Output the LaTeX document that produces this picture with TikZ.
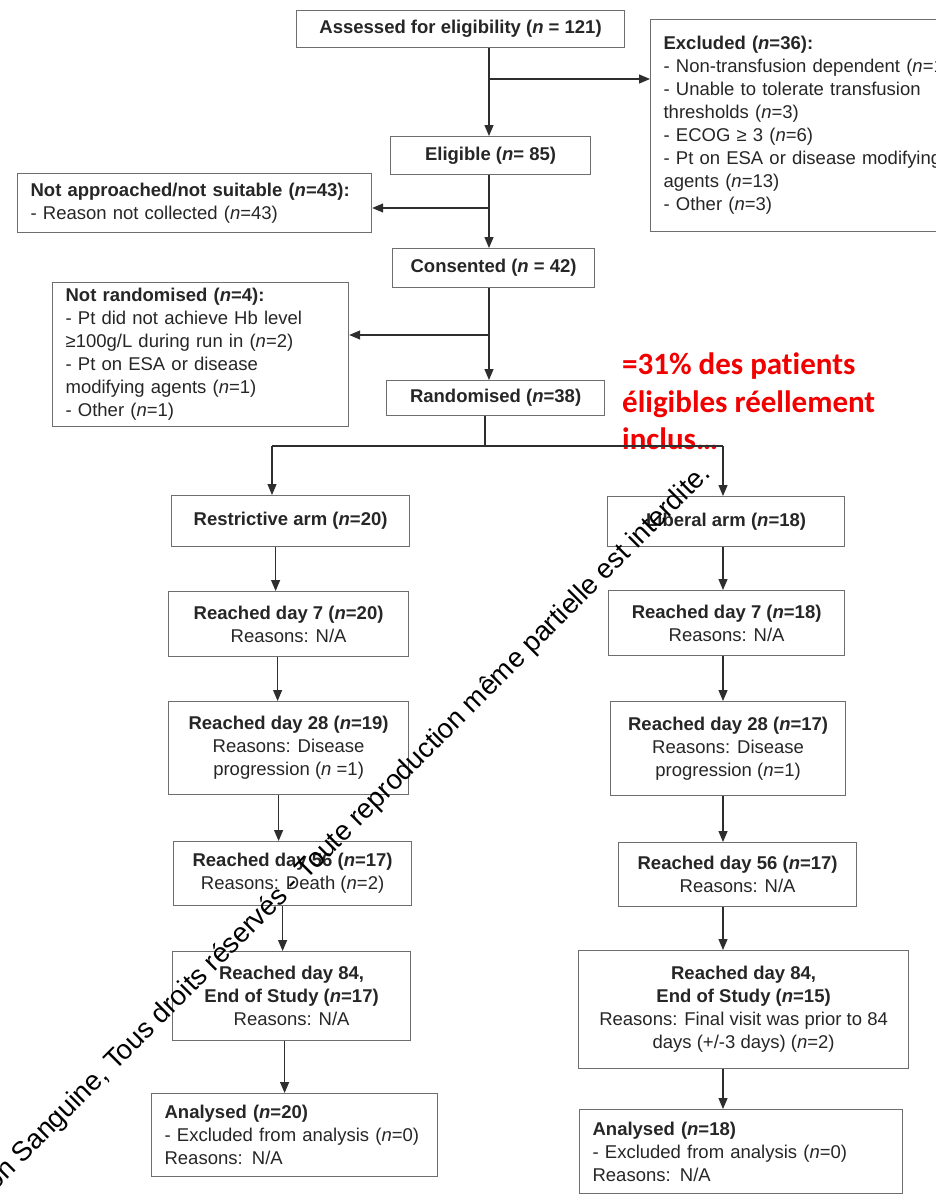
\documentclass[tikz,border=0pt]{standalone}
\usepackage{fontspec}
\setmainfont{Liberation Sans}
\newfontfamily\notefont[Ligatures=NoCommon]{Carlito}
\usetikzlibrary{arrows.meta}
\definecolor{boxgray}{HTML}{6E6E6E}
\definecolor{txtgray}{HTML}{262626}
\definecolor{linegray}{HTML}{2E2E2E}
\definecolor{notered}{HTML}{F20000}
\newcommand{\nn}{\textit{n}}

\begin{document}
\begin{tikzpicture}[x=1pt,y=-1pt,
    box/.style={draw=boxgray, line width=1.2pt, fill=white, text=txtgray, inner sep=0pt,
      font=\fontsize{18.5}{23}\selectfont, align=center, anchor=north west},
    leftbox/.style={box, align=left, inner xsep=13pt},
    arr/.style={draw=linegray, line width=1.2pt, -{Triangle[length=11pt,width=9pt]}},
    link/.style={draw=linegray, line width=1.2pt}]
  \fill[white] (0,0) rectangle (936,1195);
  \useasboundingbox (0,0) rectangle (936,1195);

  % screening
  \node[box, minimum width=328pt, minimum height=37pt] (assess) at (296,10) {\textbf{Assessed for eligibility (\nn\ = 121)}};
  \node[leftbox, text width=330pt, minimum height=212pt] (excl) at (650,19) {\textbf{Excluded (\nn=36):}\\- Non-transfusion dependent (\nn=11)\\- Unable to tolerate transfusion\\thresholds (\nn=3)\\- ECOG ≥ 3 (\nn=6)\\- Pt on ESA or disease modifying\\agents (\nn=13)\\- Other (\nn=3)};
  \node[box, minimum width=200pt, minimum height=38pt] (elig) at (390,136) {\textbf{Eligible (\nn= 85)}};
  \node[leftbox, text width=328pt, minimum height=59pt] (notapp) at (17,173) {\textbf{Not approached/not suitable (\nn=43):}\\- Reason not collected (\nn=43)};
  \node[box, minimum width=202pt, minimum height=39pt] (cons) at (392,248) {\textbf{Consented (\nn\ = 42)}};
  \node[leftbox, text width=270pt, minimum height=144pt] (notrand) at (52,282) {\textbf{Not randomised (\nn=4):}\\- Pt did not achieve Hb level\\≥100g/L during run in (\nn=2)\\- Pt on ESA or disease\\modifying agents (\nn=1)\\- Other (\nn=1)};
  \node[box, minimum width=218pt, minimum height=35pt] (rand) at (386,380) {\textbf{Randomised (\nn=38)}};

  % arms
  \node[box, minimum width=238pt, minimum height=51pt] (restr) at (171,495) {\textbf{Restrictive arm (\nn=20)}};
  \node[box, minimum width=237pt, minimum height=50pt] (liber) at (607,496) {\textbf{Liberal arm (\nn=18)}};
  \node[box, minimum width=240pt, minimum height=65pt] (d7L) at (168,591) {\textbf{Reached day 7 (\nn=20)}\\Reasons: N/A};
  \node[box, minimum width=236pt, minimum height=65pt] (d7R) at (608,590) {\textbf{Reached day 7 (\nn=18)}\\Reasons: N/A};
  \node[box, minimum width=240pt, minimum height=93pt] (d28L) at (168,701) {\textbf{Reached day 28 (\nn=19)}\\Reasons: Disease\\progression (\nn\ =1)};
  \node[box, minimum width=235pt, minimum height=94pt] (d28R) at (610,701) {\textbf{Reached day 28 (\nn=17)}\\Reasons: Disease\\progression (\nn=1)};
  \node[box, minimum width=238pt, minimum height=64pt] (d56L) at (173,841) {\textbf{Reached day 56 (\nn=17)}\\Reasons: Death (\nn=2)};
  \node[box, minimum width=238pt, minimum height=64pt] (d56R) at (618,842) {\textbf{Reached day 56 (\nn=17)}\\Reasons: N/A};
  \node[box, minimum width=238pt, minimum height=89pt] (d84L) at (172,951) {\textbf{Reached day 84,}\\\textbf{End of Study (\nn=17)}\\Reasons: N/A};
  \node[box, minimum width=330pt, minimum height=118pt] (d84R) at (578,950) {\textbf{Reached day 84,}\\\textbf{End of Study (\nn=15)}\\Reasons: Final visit was prior to 84\\days (+/-3 days) (\nn=2)};
  \node[leftbox, text width=260pt, minimum height=83pt] (anaL) at (151,1093) {\textbf{Analysed (\nn=20)}\\- Excluded from analysis (\nn=0)\\Reasons: N/A};
  \node[leftbox, text width=297pt, minimum height=84pt] (anaR) at (579,1109) {\textbf{Analysed (\nn=18)}\\- Excluded from analysis (\nn=0)\\Reasons: N/A};

  % red remark
  \node[anchor=north west, inner sep=0pt, align=left, text=notered,
    font=\notefont\bfseries\fontsize{31}{37.5}\selectfont] (note) at (622,353) {=31\% des patients\\éligibles réellement\\inclus…};

  % flow
  \coordinate (spine) at (489,0);
  \coordinate (b1) at (489,79);
  \coordinate (b2) at (489,208);
  \coordinate (b3) at (489,335);
  \draw[arr] (spine |- assess.south) -- (spine |- elig.north);
  \draw[arr] (b1) -- (b1 -| excl.west);
  \draw[arr] (spine |- elig.south) -- (spine |- cons.north);
  \draw[arr] (b2) -- (b2 -| notapp.east);
  \draw[arr] (spine |- cons.south) -- (spine |- rand.north);
  \draw[arr] (b3) -- (b3 -| notrand.east);

  \coordinate (split) at (485,446);
  \coordinate (splitL) at (272,446);
  \coordinate (splitR) at (723,446);
  \draw[link] (split |- rand.south) -- (split);
  \draw[link] (splitL) -- (splitR);
  \draw[arr] (splitL) -- (splitL |- restr.north);
  \draw[arr] (splitR) -- (splitR |- liber.north);

  \draw[arr] ([xshift=-15pt]restr.south) -- ([xshift=-15pt]restr.south |- d7L.north);
  \draw[arr] ([xshift=-11pt]d7L.south) -- ([xshift=-11pt]d7L.south |- d28L.north);
  \draw[arr] ([xshift=-10pt]d28L.south) -- ([xshift=-10pt]d28L.south |- d56L.north);
  \draw[arr] ([xshift=-10pt]d56L.south) -- ([xshift=-10pt]d56L.south |- d84L.north);
  \draw[arr] ([xshift=-7pt]d84L.south) -- ([xshift=-7pt]d84L.south |- anaL.north);

  \draw[arr] (splitR |- liber.south) -- (splitR |- d7R.north);
  \draw[arr] (splitR |- d7R.south) -- (splitR |- d28R.north);
  \draw[arr] (splitR |- d28R.south) -- (splitR |- d56R.north);
  \draw[arr] (splitR |- d56R.south) -- (splitR |- d84R.north);
  \draw[arr] (splitR |- d84R.south) -- (splitR |- anaR.north);

  % stamp
  \node[rotate=45, anchor=base east, inner sep=0pt, font=\fontsize{27.5}{30}\selectfont] (stamp) at (712,475) {on Sanguine, Tous droits réservés - Toute reproduction même partielle est interdite.};
\end{tikzpicture}
\end{document}
